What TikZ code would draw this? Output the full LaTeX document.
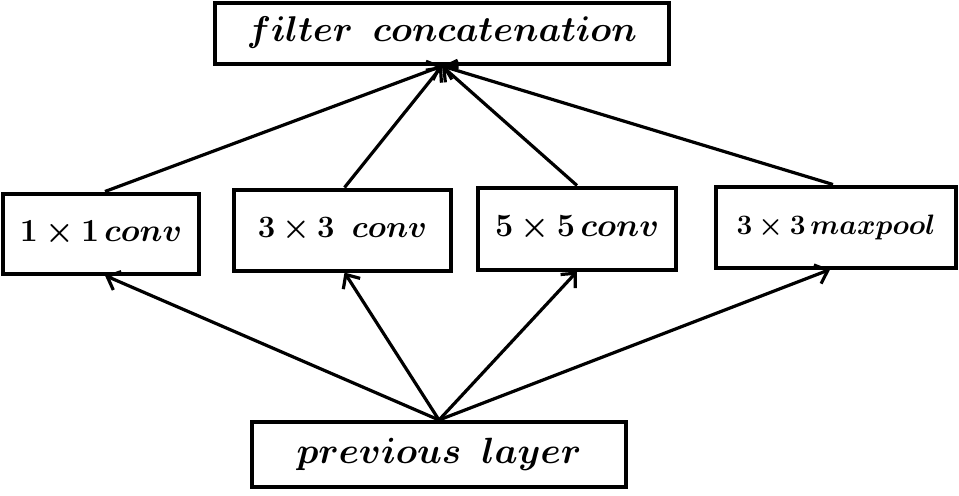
\documentclass[tikz,border=0pt]{standalone}
\usepackage{amsmath,bm,graphicx}
\usepackage{tikz}
\usetikzlibrary{arrows.meta,positioning}
\newcommand\hugefnt{\fontsize{19pt}{22pt}\selectfont}
\newcommand\midfnt{\fontsize{17pt}{20pt}\selectfont}
\newcommand\smallfnt{\fontsize{14pt}{17pt}\selectfont}
\newcommand\prevfnt{\fontsize{20pt}{24pt}\selectfont}
\tikzset{
  box/.style={draw, line width=2pt, align=center, inner sep=0pt},
  link/.style={line width=1.6pt, -{Straight Barb[length=5.5pt,width=10pt]}},
}
\begin{document}
\begin{tikzpicture}[x=0.5pt,y=-0.5pt]
\path[use as bounding box] (0,0) rectangle (959,495);
% boxes
\node[box, minimum width=227pt, minimum height=30.5pt, font=\hugefnt] (concat) at (442,33) {\scalebox{1.035}{$\bm{filter\;\;concatenation}$}};
\node[box, minimum width=98pt, minimum height=40pt, font=\midfnt] (conva) at (101,233.5) {\scalebox{0.93}{$\bm{1\times1\,conv}$}};
\node[box, minimum width=108.5pt, minimum height=40.5pt, font=\midfnt] (convb) at (342.5,230) {\scalebox{0.9}{$\bm{3\times3\;\;conv}$}};
\node[box, minimum width=99pt, minimum height=41pt, font=\midfnt] (convc) at (577,228.5) {\scalebox{0.94}{$\bm{5\times5\,conv}$}};
\node[box, minimum width=120pt, minimum height=40.5pt, font=\smallfnt] (pool) at (836,227) {\scalebox{0.975}{$\bm{3\times3\,maxpool}$}};
\node[box, minimum width=187pt, minimum height=32.5pt, font=\prevfnt] (prev) at (439,454) {\scalebox{0.88}{$\bm{previous\;\;layer}$}};
% arrows
\coordinate (in) at (439,420);
\coordinate (out) at (442,66);
\draw[link] (in) -- ([xshift=2pt]conva.south);
\draw[link] (in) -- ([xshift=1pt]convb.south);
\draw[link] (in) -- (convc.south);
\draw[link] (in) -- ([xshift=-3pt]pool.south);
\draw[link] ([xshift=2pt]conva.north) -- (out);
\draw[link] ([xshift=1pt]convb.north) -- (out);
\draw[link] (convc.north) -- (out);
\draw[link] ([xshift=-1.5pt]pool.north) -- (out);
\end{tikzpicture}
\end{document}
